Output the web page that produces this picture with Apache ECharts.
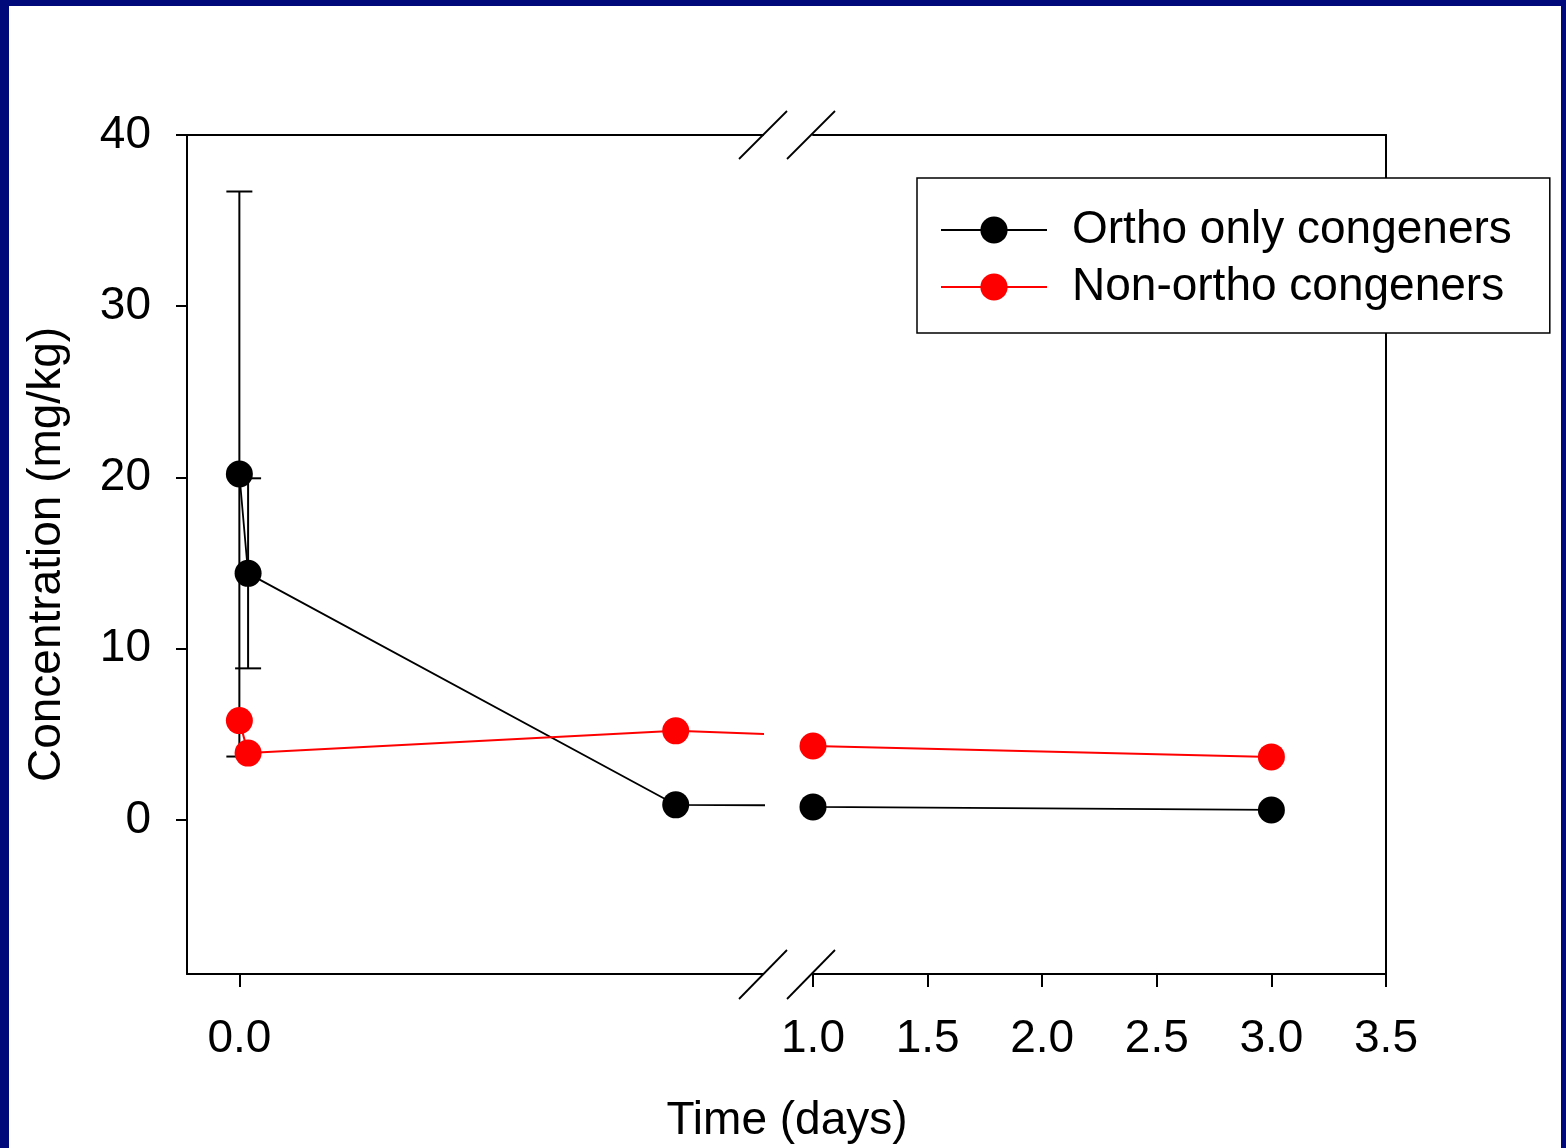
<!DOCTYPE html>
<html>
<head>
<meta charset="utf-8">
<script src="https://cdn.jsdelivr.net/npm/echarts@6/dist/echarts.min.js"></script>
<style>
  html, body { margin: 0; padding: 0; }
  body { width: 1566px; height: 1148px; background: #00097a; position: relative; overflow: hidden; }
  #paper { position: absolute; left: 9px; top: 6px; width: 1552px; height: 1142px; background: #ffffff; }
  #chart { position: absolute; left: 0; top: 0; width: 1566px; height: 1148px; }
</style>
</head>
<body>
<div id="paper"></div>
<div id="chart"></div>
<script>
// ---- data ----
const seriesNames = ['Ortho only congeners', 'Non-ortho congeners'];
const timeDays = [0, 0.01, 0.5, 1.0, 3.0];
const orthoValues = [20.2, 14.4, 0.88, 0.76, 0.58];
const orthoErrors = [16.5, 5.55, null, null, null];
const nonOrthoValues = [5.8, 3.9, 5.2, 4.32, 3.68];
const leftTicks = [0];
const rightTicks = [1.0, 1.5, 2.0, 2.5, 3.0, 3.5];
const yTicks = [0, 10, 20, 30, 40];

// left segment uses points 0..3 (clipped at break), right segment points 2..4
function pts(vals, from, to) {
  const out = [];
  for (let i = from; i <= to; i++) out.push([timeDays[i], vals[i]]);
  return out;
}
const errData = [];
for (let i = 0; i < timeDays.length; i++) {
  if (orthoErrors[i] != null) errData.push([timeDays[i], orthoValues[i] - orthoErrors[i], orthoValues[i] + orthoErrors[i]]);
}

const FONT = "'Liberation Sans', Arial, sans-serif";
const chart = echarts.init(document.getElementById('chart'), null, { renderer: 'canvas' });

const axisLineStyle = { show: true, onZero: false, lineStyle: { color: '#000', width: 2 } };
const yMin = -9, yMax = 40;

const option = {
  animation: false,
  backgroundColor: 'transparent',
  textStyle: { fontFamily: FONT },
  grid: [
    { left: 187, top: 135, width: 576, height: 839, containLabel: false },
    { left: 813, top: 135, width: 573, height: 839, containLabel: false }
  ],
  xAxis: [
    {
      gridIndex: 0, type: 'value', position: 'bottom', min: -0.06, max: 0.6,
      axisLine: axisLineStyle,
      axisTick: { show: true, inside: false, length: 13, customValues: leftTicks, lineStyle: { color: '#000', width: 2 } },
      axisLabel: { show: true, customValues: leftTicks, margin: 42, fontSize: 46, color: '#000', fontFamily: FONT,
        formatter: v => Number(v).toFixed(1) },
      splitLine: { show: false }
    },
    {
      gridIndex: 0, type: 'value', position: 'top', min: -0.06, max: 0.6,
      axisLine: axisLineStyle, axisTick: { show: false }, axisLabel: { show: false }, splitLine: { show: false }
    },
    {
      gridIndex: 1, type: 'value', position: 'bottom', min: 1, max: 3.5, interval: 0.5,
      axisLine: axisLineStyle,
      axisTick: { show: true, inside: false, length: 13, customValues: rightTicks, lineStyle: { color: '#000', width: 2 } },
      axisLabel: { show: true, customValues: rightTicks, margin: 42, fontSize: 46, color: '#000', fontFamily: FONT,
        formatter: v => Number(v).toFixed(1) },
      splitLine: { show: false }
    },
    {
      gridIndex: 1, type: 'value', position: 'top', min: 1, max: 3.5,
      axisLine: axisLineStyle, axisTick: { show: false }, axisLabel: { show: false }, splitLine: { show: false }
    }
  ],
  yAxis: [
    {
      gridIndex: 0, type: 'value', position: 'left', min: yMin, max: yMax,
      name: 'Concentration (mg/kg)', nameLocation: 'middle', nameGap: 117, nameRotate: 90,
      nameTextStyle: { fontSize: 46, color: '#000', fontFamily: FONT },
      axisLine: axisLineStyle,
      axisTick: { show: true, inside: false, length: 11, customValues: yTicks, lineStyle: { color: '#000', width: 2 } },
      axisLabel: { show: true, customValues: yTicks, margin: 36, fontSize: 46, color: '#000', fontFamily: FONT },
      splitLine: { show: false }
    },
    {
      gridIndex: 1, type: 'value', position: 'right', min: yMin, max: yMax,
      axisLine: axisLineStyle, axisTick: { show: false }, axisLabel: { show: false }, splitLine: { show: false }
    }
  ],
  legend: {
    data: seriesNames,
    orient: 'vertical',
    left: 917, top: 178,
    padding: [29, 38, 23, 23],
    itemGap: 11,
    itemWidth: 106, itemHeight: 34,
    backgroundColor: '#fff',
    borderColor: '#000', borderWidth: 1.5, borderRadius: 0,
    textStyle: { fontSize: 46, color: '#000', fontFamily: FONT, lineHeight: 46, padding: [0, 0, 0, 20] },
    selectedMode: false
  },
  graphic: [
    // axis break marks (top)
    { type: 'line', shape: { x1: 739, y1: 159, x2: 787, y2: 111 }, style: { stroke: '#000', lineWidth: 1.8 }, z: 100 },
    { type: 'line', shape: { x1: 787, y1: 159, x2: 835, y2: 111 }, style: { stroke: '#000', lineWidth: 1.8 }, z: 100 },
    // axis break marks (bottom)
    { type: 'line', shape: { x1: 739, y1: 999, x2: 787, y2: 950 }, style: { stroke: '#000', lineWidth: 1.8 }, z: 100 },
    { type: 'line', shape: { x1: 787, y1: 999, x2: 835, y2: 950 }, style: { stroke: '#000', lineWidth: 1.8 }, z: 100 },
    // x axis title
    { type: 'text', x: 787, y: 1121, style: { text: 'Time (days)', fontSize: 46, fontFamily: FONT, fill: '#000',
      textAlign: 'center', textVerticalAlign: 'middle' }, z: 100 }
  ],
  series: [
    {
      name: 'ortho-error', type: 'custom', xAxisIndex: 0, yAxisIndex: 0, z: 1,
      data: errData,
      renderItem: function (params, api) {
        const x = api.value(0);
        const lo = api.coord([x, api.value(1)]);
        const hi = api.coord([x, api.value(2)]);
        const hw = 13;
        const st = { stroke: '#000', lineWidth: 2 };
        return {
          type: 'group',
          children: [
            { type: 'line', shape: { x1: lo[0], y1: lo[1], x2: hi[0], y2: hi[1] }, style: st },
            { type: 'line', shape: { x1: lo[0] - hw, y1: lo[1], x2: lo[0] + hw, y2: lo[1] }, style: st },
            { type: 'line', shape: { x1: hi[0] - hw, y1: hi[1], x2: hi[0] + hw, y2: hi[1] }, style: st }
          ]
        };
      }
    },
    {
      name: seriesNames[0], type: 'line', xAxisIndex: 0, yAxisIndex: 0, z: 3, clip: true,
      data: pts(orthoValues, 0, 3),
      symbol: 'circle', symbolSize: 27,
      itemStyle: { color: '#000' }, lineStyle: { color: '#000', width: 1.8 }
    },
    {
      name: seriesNames[1], type: 'line', xAxisIndex: 0, yAxisIndex: 0, z: 4, clip: true,
      data: pts(nonOrthoValues, 0, 3),
      symbol: 'circle', symbolSize: 27,
      itemStyle: { color: '#ff0000' }, lineStyle: { color: '#ff0000', width: 2 }
    },
    {
      name: seriesNames[0], type: 'line', xAxisIndex: 2, yAxisIndex: 1, z: 3, clip: true,
      data: pts(orthoValues, 2, 4),
      symbol: 'circle', symbolSize: 27,
      itemStyle: { color: '#000' }, lineStyle: { color: '#000', width: 1.8 }
    },
    {
      name: seriesNames[1], type: 'line', xAxisIndex: 2, yAxisIndex: 1, z: 4, clip: true,
      data: pts(nonOrthoValues, 2, 4),
      symbol: 'circle', symbolSize: 27,
      itemStyle: { color: '#ff0000' }, lineStyle: { color: '#ff0000', width: 2 }
    }
  ]
};
chart.setOption(option);
</script>
</body>
</html>
